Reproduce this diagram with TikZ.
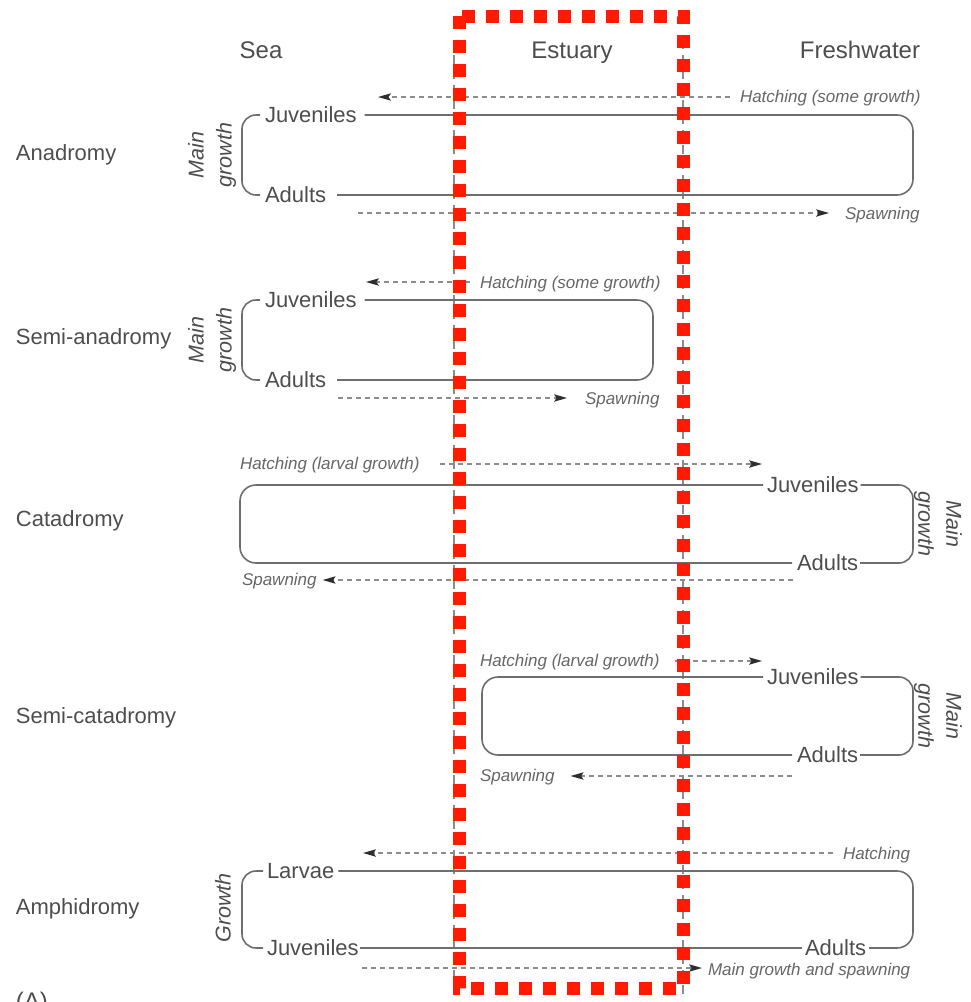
\documentclass[tikz,border=0pt]{standalone}
\usepackage{fontspec}
\setmainfont{Liberation Sans}
\usetikzlibrary{arrows.meta,calc}
\definecolor{txt}{HTML}{4D4D4D}
\definecolor{itx}{HTML}{666666}
\definecolor{ln}{HTML}{6E6E6E}
\definecolor{dl}{HTML}{8C8C8C}
\definecolor{ah}{HTML}{2E2E2E}
\definecolor{redbox}{HTML}{FF1A00}
\begin{document}
\begin{tikzpicture}[x=1pt,y=-1pt,
 every node/.style={inner sep=0pt, outer sep=0pt},
 lab/.style={font=\fontsize{22}{26}\selectfont, text=txt, text height=15.8pt, text depth=0pt},
 head/.style={font=\fontsize{24}{28}\selectfont, text=txt, text height=17pt, text depth=0pt},
 itl/.style={font=\fontsize{17}{20}\selectfont\itshape, text=itx, text height=12.2pt, text depth=0pt},
 rot/.style={font=\fontsize{21.5}{28}\selectfont\itshape, text=txt, align=center},
 cyc/.style={draw=ln, line width=1.6pt, rounded corners=16pt},
 brk/.style={draw=ln, line width=1.6pt, rounded corners=14pt},
 mig/.style={draw=dl, line width=1.5pt, dash pattern=on 5pt off 4pt, -{Stealth[length=13pt,width=7.5pt,inset=2.5pt,line width=0pt,color=ah]}},
 zone/.style={draw=dl, line width=1.5pt, dash pattern=on 9pt off 6pt},
]
\useasboundingbox (0,0) rectangle (970,1002);

% zone boundaries
\coordinate (v1t) at (454,40); \coordinate (v1b) at (454,1000);
\coordinate (v2t) at (683,40); \coordinate (v2b) at (683,1000);
\draw[zone] (v1t) -- (v1b);
\draw[zone] (v2t) -- (v2b);

% headers
\node[head] (sea) at (261,50) {Sea};
\node[head] (est) at (572,50) {Estuary};
\node[head] (fw) at (860,50) {Freshwater};

% row labels
\node[lab,anchor=west] (r1) at (16,153) {Anadromy};
\node[lab,anchor=west] (r2) at (16,337) {Semi-anadromy};
\node[lab,anchor=west] (r3) at (16,519) {Catadromy};
\node[lab,anchor=west] (r4) at (16,716) {Semi-catadromy};
\node[lab,anchor=west] (r5) at (16,907) {Amphidromy};

% ---------- Anadromy
\node[lab,anchor=west] (aJ) at (265,115) {Juveniles};
\node[lab,anchor=west] (aA) at (265,195) {Adults};
\draw[cyc] ($(aJ.east)+(8,0)$) -- (913,115) -- (913,195) -- ($(aA.east)+(11,0)$);
\draw[brk] ($(aJ.west)+(-5,0)$) -- (242,115) -- (242,195) -- ($(aA.west)+(-5,0)$);
\node[rot,rotate=90] (aG) at (212,155) {Main\\growth};
\node[itl,anchor=west] (aH) at (740,96) {Hatching (some growth)};
\coordinate (aHt) at (378,97);
\draw[mig] ($(aH.west)+(-10,1)$) -- (aHt);
\node[itl,anchor=west] (aS) at (845,213) {Spawning};
\coordinate (aSs) at (358,213);
\draw[mig] (aSs) -- ($(aS.west)+(-16,0)$);

% ---------- Semi-anadromy
\node[lab,anchor=west] (sJ) at (265,300) {Juveniles};
\node[lab,anchor=west] (sA) at (265,380) {Adults};
\draw[cyc] ($(sJ.east)+(8,0)$) -- (653,300) -- (653,380) -- ($(sA.east)+(11,0)$);
\draw[brk] ($(sJ.west)+(-5,0)$) -- (242,300) -- (242,380) -- ($(sA.west)+(-5,0)$);
\node[rot,rotate=90] (sG) at (212,340) {Main\\growth};
\node[itl,anchor=west] (sH) at (480,282) {Hatching (some growth)};
\coordinate (sHt) at (366,282);
\draw[mig] ($(sH.west)+(-10,0)$) -- (sHt);
\node[itl,anchor=west] (sS) at (585,398) {Spawning};
\coordinate (sSs) at (338,398);
\draw[mig] (sSs) -- ($(sS.west)+(-18,0)$);

% ---------- Catadromy
\node[lab,anchor=west] (cJ) at (767,485) {Juveniles};
\node[lab,anchor=west] (cA) at (797,563) {Adults};
\draw[cyc] ($(cJ.west)+(-4,0)$) -- (240,485) -- (240,563) -- ($(cA.west)+(-5,0)$);
\draw[brk] ($(cJ.east)+(2,0)$) -- (913,485) -- (913,563) -- ($(cA.east)+(2,0)$);
\node[rot,rotate=-90] (cG) at (938,524) {Main\\growth};
\node[itl,anchor=west] (cH) at (240,463) {Hatching (larval growth)};
\coordinate (cHt) at (762,464);
\draw[mig] ($(cH.east)+(20,1)$) -- (cHt);
\node[itl,anchor=west] (cS) at (242,579) {Spawning};
\coordinate (cSs) at (793,580);
\draw[mig] (cSs) -- ($(cS.east)+(6,1)$);

% ---------- Semi-catadromy
\node[lab,anchor=west] (scJ) at (767,677) {Juveniles};
\node[lab,anchor=west] (scA) at (797,755) {Adults};
\draw[cyc] ($(scJ.west)+(-4,0)$) -- (482,677) -- (482,755) -- ($(scA.west)+(-5,0)$);
\draw[brk] ($(scJ.east)+(2,0)$) -- (913,677) -- (913,755) -- ($(scA.east)+(2,0)$);
\node[rot,rotate=-90] (scG) at (938,716) {Main\\growth};
\node[itl,anchor=west] (scH) at (480,660) {Hatching (larval growth)};
\coordinate (scHt) at (762,661);
\draw[mig] ($(scH.east)+(15,1)$) -- (scHt);
\node[itl,anchor=west] (scS) at (480,775) {Spawning};
\coordinate (scSs) at (792,776);
\draw[mig] (scSs) -- ($(scS.east)+(16,1)$);

% ---------- Amphidromy
\node[lab,anchor=west] (mL) at (267,871) {Larvae};
\node[lab,anchor=west] (mJ) at (267,948) {Juveniles};
\node[lab,anchor=west] (mA) at (805,948) {Adults};
\draw[cyc] ($(mL.east)+(4,0)$) -- (913,871) -- (913,948) -- ($(mA.east)+(3,0)$);
\draw[cyc] ($(mJ.east)+(1,0)$) -- ($(mA.west)+(-3,0)$);
\draw[brk] ($(mL.west)+(-4,0)$) -- (242,871) -- (242,948) -- ($(mJ.west)+(-4,0)$);
\node[rot,rotate=90] (mG) at (223,908) {Growth};
\node[itl,anchor=west] (mH) at (843,853) {Hatching};
\coordinate (mHt) at (363,853);
\draw[mig] ($(mH.west)+(-10,0)$) -- (mHt);
\node[itl,anchor=west] (mS) at (708,969) {Main growth and spawning};
\coordinate (mSs) at (362,968);
\draw[mig] (mSs) -- ($(mS.west)+(-6,-1)$);

% panel letter (cut off at the lower edge, as in the source)
\node[lab,anchor=west,font=\fontsize{24}{28}\selectfont] (pA) at (16,1002) {(A)};

% estuary highlight
\draw[redbox, line width=13pt, dash pattern=on 13pt off 11pt] (459,16) rectangle (683,988);
\end{tikzpicture}
\end{document}
